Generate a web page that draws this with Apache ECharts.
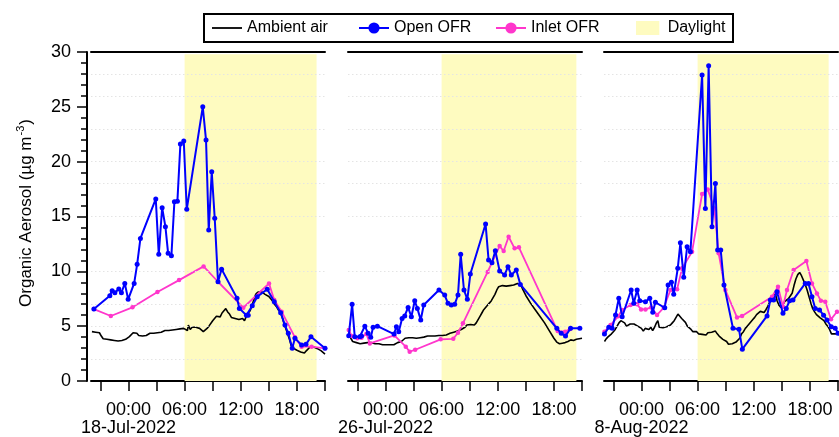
<!DOCTYPE html>
<html><head><meta charset="utf-8">
<script src="https://cdn.jsdelivr.net/npm/echarts@6/dist/echarts.min.js"></script>
<style>html,body{margin:0;padding:0;background:#fff}#c{width:839px;height:437px}</style>
</head><body><div id="c"></div><script>
// ---------- data (x = hours relative to 00:00 of the panel date) ----------
const dates = ['18-Jul-2022', '26-Jul-2022', '8-Aug-2022'];
const xTickHours = [-3, 0, 3, 6, 9, 12, 15, 18, 21];
const xLabelHours = [0, 6, 12, 18];
const daylight = [[6, 20.1], [6, 20.4], [6, 20.0]];
const gridValues = [2, 5, 7, 10, 15, 18, 20, 23, 26, 28];

const ambient1 = [[-3.9,4.5],[-3.7,4.4],[-3.5,4.45],[-3.3,4.3],[-3.1,4.4],[-2.9,4.1],[-2.7,3.85],[-2.5,3.75],[-2.3,3.8],[-2.1,3.65],[-1.9,3.75],[-1.7,3.6],[-1.5,3.7],[-1.3,3.55],[-1.1,3.65],[-0.9,3.6],[-0.7,3.7],[-0.5,3.65],[-0.3,3.8],[-0.1,3.95],[0.1,4.05],[0.3,4.2],[0.5,4.4],[0.7,4.3],[0.9,4.35],[1.1,4.15],[1.3,4.25],[1.5,4.1],[1.7,4.2],[1.9,4.15],[2.1,4.3],[2.3,4.35],[2.5,4.2],[2.7,4.35],[2.9,4.3],[3.1,4.4],[3.3,4.3],[3.5,4.45],[3.7,4.4],[3.9,4.6],[4.1,4.75],[4.3,4.6],[4.5,4.7],[4.7,4.65],[4.9,4.75],[5.1,4.7],[5.3,4.65],[5.5,4.75],[5.7,4.7],[5.9,4.8],[6.1,4.85],[6.3,4.6],[6.4,5.1],[6.6,4.7],[6.8,4.9],[7.0,4.8],[7.2,4.9],[7.4,5.0],[7.6,4.8],[7.8,4.65],[8.0,4.5],[8.2,4.6],[8.4,4.8],[8.6,5.0],[8.8,5.1],[9.0,5.5],[9.2,5.4],[9.4,5.9],[9.6,6.0],[9.8,5.85],[10.0,6.2],[10.2,6.4],[10.4,6.6],[10.6,6.3],[10.8,6.1],[11.0,5.8],[11.2,5.9],[11.4,5.7],[11.6,5.75],[11.8,5.6],[12.0,5.55],[12.2,5.7],[12.4,5.5],[12.6,5.9],[12.8,6.2],[13.0,6.4],[13.2,6.9],[13.4,7.4],[13.6,7.9],[13.8,8.1],[14.0,8.0],[14.2,8.15],[14.4,8.1],[14.6,7.9],[14.8,7.85],[15.0,7.7],[15.2,7.5],[15.4,7.3],[15.6,7.0],[15.8,6.8],[16.0,6.5],[16.2,6.3],[16.4,5.9],[16.6,5.3],[16.8,4.8],[17.0,4.3],[17.2,3.8],[17.4,3.2],[17.6,3.0],[17.8,2.95],[18.0,2.8],[18.2,2.9],[18.4,2.65],[18.6,2.7],[18.8,2.55],[19.0,2.75],[19.2,2.9],[19.4,3.1],[19.6,3.05],[19.8,3.1],[20.0,3.0],[20.2,2.95],[20.4,2.85],[20.6,2.75],[20.8,2.6],[21.0,2.45]];
const open1 = [[-3.69,6.56],[-1.99,7.78],[-1.74,8.23],[-1.45,8.05],[-1.03,8.39],[-0.75,8.05],[-0.39,8.9],[-0.03,7.45],[0.61,8.9],[0.93,10.64],[1.28,13.0],[2.92,16.6],[3.24,11.55],[3.6,15.8],[3.95,14.07],[4.24,11.64],[4.59,11.42],[4.91,16.35],[5.23,16.38],[5.55,21.6],[5.91,21.88],[6.23,15.65],[7.94,25.0],[8.29,21.97],[8.58,13.76],[8.9,19.08],[9.22,14.83],[9.57,9.05],[9.95,10.2],[11.6,7.54],[11.85,6.62],[12.6,6.0],[12.8,6.0],[13.23,6.87],[13.76,7.69],[14.83,8.36],[15.58,7.23],[16.26,6.23],[16.72,5.1],[17.08,4.35],[17.5,2.98],[17.79,3.89],[18.5,3.28],[18.97,3.34],[19.5,4.04],[21.0,2.98]];
const inlet1 = [[-3.69,6.56],[-1.88,5.93],[0.43,6.72],[3.1,8.11],[5.41,9.2],[8.03,10.45],[9.57,9.05],[12.27,6.68],[15.02,8.9],[15.58,7.38],[16.37,6.32],[17.79,3.98],[18.5,3.13],[19.57,3.13],[21.0,2.98]];

const ambient2 = [[-3.95,4.0],[-3.85,4.5],[-3.7,3.9],[-3.5,3.6],[-3.3,3.45],[-3.1,3.5],[-2.9,3.35],[-2.7,3.4],[-2.5,3.3],[-2.3,3.45],[-2.1,3.4],[-1.9,3.5],[-1.7,3.45],[-1.5,3.5],[-1.3,3.45],[-1.1,3.4],[-0.9,3.45],[-0.7,3.4],[-0.5,3.35],[-0.3,3.3],[-0.1,3.35],[0.1,3.3],[0.3,3.25],[0.5,3.3],[0.7,3.35],[0.9,3.3],[1.1,3.4],[1.3,3.5],[1.5,3.45],[1.7,3.6],[1.9,3.75],[2.1,3.9],[2.3,4.05],[2.5,3.95],[2.7,4.05],[2.9,3.95],[3.1,4.0],[3.3,3.9],[3.5,4.0],[3.7,3.95],[3.9,4.05],[4.1,4.0],[4.3,4.05],[4.5,4.1],[4.7,4.0],[4.9,4.1],[5.1,4.05],[5.3,4.1],[5.5,4.0],[5.7,4.15],[5.9,4.2],[6.1,4.15],[6.3,4.25],[6.5,4.2],[6.7,4.3],[6.9,4.35],[7.1,4.4],[7.3,4.45],[7.5,4.5],[7.7,4.55],[7.9,4.6],[8.1,4.7],[8.3,4.85],[8.5,4.9],[8.7,5.1],[8.9,5.2],[9.1,5.15],[9.3,5.0],[9.5,5.1],[9.7,5.3],[9.9,5.6],[10.1,5.9],[10.3,6.2],[10.5,6.5],[10.7,6.6],[10.9,6.9],[11.1,7.1],[11.3,7.3],[11.5,7.6],[11.7,7.9],[11.9,8.3],[12.1,8.6],[12.3,8.75],[12.5,8.7],[12.7,8.8],[12.9,8.65],[13.1,8.75],[13.3,8.7],[13.5,8.8],[13.7,8.75],[13.9,8.85],[14.1,8.9],[14.3,9.05],[14.5,8.7],[14.7,8.3],[15.0,7.8],[15.5,7.1],[16.0,6.5],[16.5,5.9],[17.0,5.3],[17.5,4.6],[18.0,3.9],[18.3,3.55],[18.6,3.4],[18.9,3.45],[19.2,3.5],[19.5,3.6],[19.8,3.75],[20.1,3.7],[20.4,3.8],[20.7,3.85],[21.0,3.9]];
const open2 = [[-3.92,4.13],[-3.56,6.99],[-3.28,4.04],[-2.74,4.04],[-2.56,4.1],[-2.2,5.0],[-1.85,4.35],[-1.57,3.98],[-1.32,4.9],[-0.86,5.0],[0.92,4.28],[1.17,4.95],[1.42,4.5],[1.78,5.71],[2.06,5.93],[2.42,6.71],[2.77,5.86],[3.13,7.32],[3.41,6.62],[3.77,5.56],[4.09,6.93],[5.72,8.3],[6.33,7.84],[6.68,7.08],[7.04,6.93],[7.4,6.99],[7.75,7.84],[8.04,11.55],[8.39,8.3],[8.75,7.45],[9.07,9.75],[10.7,14.31],[11.02,11.03],[11.38,10.78],[11.74,11.88],[12.2,10.03],[12.73,9.66],[13.09,10.42],[13.45,9.66],[13.98,10.12],[14.41,8.81],[18.31,4.8],[18.78,4.35],[19.24,4.1],[19.78,4.8],[20.77,4.8]];
const inlet2 = [[-3.92,4.65],[-3.6,4.1],[-3.0,3.9],[-2.56,3.95],[-2.03,4.3],[-1.67,3.43],[0.95,4.16],[2.17,3.13],[2.59,2.67],[3.18,2.85],[5.9,3.8],[7.25,3.85],[7.75,4.4],[8.28,5.26],[10.92,9.95],[12.2,12.3],[12.63,11.85],[13.16,13.15],[13.8,12.1],[14.26,12.19],[18.4,4.55],[19.2,4.5],[19.74,4.75]];

const ambient3 = [[-3.95,3.6],[-3.8,3.8],[-3.6,4.0],[-3.4,4.1],[-3.2,4.3],[-3.0,4.5],[-2.8,4.7],[-2.6,5.0],[-2.4,5.3],[-2.2,5.5],[-2.0,5.6],[-1.8,5.3],[-1.6,5.0],[-1.4,5.15],[-1.2,5.2],[-1.0,5.35],[-0.8,5.2],[-0.6,5.1],[-0.4,5.0],[-0.2,4.9],[0.0,4.8],[0.2,4.55],[0.4,4.8],[0.6,4.95],[0.8,4.7],[1.0,4.9],[1.2,4.6],[1.4,4.9],[1.6,5.3],[1.75,5.5],[1.9,4.9],[2.1,4.75],[2.3,4.85],[2.5,4.7],[2.7,4.95],[2.9,5.0],[3.1,5.1],[3.3,5.3],[3.5,5.5],[3.7,5.8],[3.9,6.1],[4.1,5.9],[4.3,5.7],[4.5,5.6],[4.7,5.35],[4.9,5.0],[5.1,4.9],[5.3,4.7],[5.5,4.5],[5.7,4.45],[5.9,4.5],[6.1,4.3],[6.3,4.45],[6.5,4.25],[6.7,4.4],[6.9,4.2],[7.1,4.4],[7.3,4.3],[7.5,4.45],[7.7,4.5],[7.9,4.55],[8.1,4.3],[8.3,4.1],[8.5,4.0],[8.7,3.8],[8.9,3.75],[9.1,3.6],[9.3,3.35],[9.5,3.2],[9.7,3.4],[9.9,3.45],[10.1,3.55],[10.3,3.5],[10.5,3.9],[10.7,4.3],[10.9,4.5],[11.1,4.8],[11.3,5.0],[11.5,5.2],[11.7,5.35],[11.9,5.6],[12.1,5.8],[12.3,6.05],[12.5,6.2],[12.7,6.35],[12.9,6.3],[13.1,6.25],[13.3,6.5],[13.5,6.8],[13.7,7.2],[13.9,7.5],[14.1,7.8],[14.3,8.0],[14.5,7.3],[14.7,6.9],[14.9,6.7],[15.1,6.9],[15.3,7.25],[15.5,7.4],[15.7,7.5],[15.9,7.6],[16.1,8.0],[16.3,8.7],[16.5,9.3],[16.7,9.7],[16.9,9.9],[17.1,9.6],[17.3,9.2],[17.5,8.8],[17.7,8.3],[17.9,7.7],[18.1,7.1],[18.3,6.6],[18.5,6.3],[18.7,6.05],[18.9,5.9],[19.1,5.75],[19.3,5.6],[19.5,5.5],[19.7,5.2],[19.9,5.0],[20.1,4.7],[20.3,4.3],[20.5,4.2],[20.7,4.3],[20.9,4.25],[21.0,4.3]];
const open3 = [[-3.95,4.28],[-3.49,4.9],[-3.13,4.8],[-2.77,6.02],[-2.42,7.54],[-2.06,5.86],[-1.1,8.3],[-0.82,7.08],[-0.46,8.3],[-0.18,7.32],[0.43,7.23],[0.89,7.54],[1.21,6.26],[1.49,7.17],[2.49,6.68],[2.85,8.75],[3.2,9.0],[3.45,7.9],[3.88,10.27],[4.16,12.6],[4.52,9.45],[4.88,12.24],[5.23,11.79],[6.48,27.9],[6.83,15.74],[7.18,28.74],[7.54,14.07],[7.9,18.0],[8.14,11.94],[8.47,11.94],[8.82,8.75],[9.78,4.8],[10.42,4.71],[10.78,2.9],[13.42,5.93],[13.77,7.38],[14.12,7.38],[14.48,8.14],[15.12,6.17],[15.47,6.62],[15.83,7.32],[16.19,7.38],[17.5,8.9],[17.85,8.9],[18.22,7.69],[18.57,6.62],[19.03,6.47],[19.46,6.0],[19.82,5.56],[20.28,4.95],[20.7,4.8],[21.0,4.35]];
const inlet3 = [[-3.95,4.5],[-3.3,5.1],[-2.5,5.9],[-2.06,6.47],[-1.17,6.93],[-0.46,6.99],[-0.04,6.53],[0.43,6.53],[1.03,6.71],[1.67,6.02],[2.38,6.68],[3.1,8.3],[3.81,8.36],[4.34,10.27],[5.41,11.79],[6.48,17.05],[7.08,17.47],[7.79,15.74],[8.25,11.64],[8.96,8.3],[10.21,5.8],[10.75,5.93],[13.95,7.69],[14.59,8.6],[15.12,6.78],[15.55,8.3],[16.26,10.12],[17.62,10.95],[18.22,8.9],[18.75,7.99],[19.17,7.32],[19.64,7.23],[20.25,5.62],[20.89,6.32]];

const ambientSets = [ambient1, ambient2, ambient3];
const openSets = [open1, open2, open3];
const inletSets = [inlet1, inlet2, inlet3];

// ---------- styling / layout ----------
const FONT = 'Liberation Sans, Arial, sans-serif';
const BLUE = '#0000ff', PINK = '#ff36cc', YELLOW = '#fefbc0';
const panelLeft = [91, 348, 604];
const panelWidth = 234;
// axis scale counts hours from 00:00 of the previous day (avoids a zero crossing)
const SHIFT = 24;
const X_MIN = -4 + SHIFT, X_MAX = 21 + SHIFT;
const sh = (arr) => arr.map(p => [p[0] + SHIFT, p[1]]);
const AX = 3; // x axes per panel

const grids = [], xAxes = [], yAxes = [], series = [];
for (let i = 0; i < 3; i++) {
  grids.push({ left: panelLeft[i], width: panelWidth, top: 52, bottom: 56, containLabel: false, outerBoundsMode: 'none' });
  // bottom axis: ticks + hour labels
  xAxes.push({
    type: 'value', gridIndex: i, min: X_MIN, max: X_MAX, position: 'bottom',
    axisLine: { show: true, onZero: false, lineStyle: { color: '#000', width: 2 } },
    axisTick: { show: true, customValues: xTickHours.map(h => h + SHIFT), length: 10, inside: false, lineStyle: { color: '#000', width: 1.5 } },
    axisLabel: {
      show: true, customValues: xLabelHours.map(h => h + SHIFT), margin: 20,
      fontFamily: FONT, fontSize: 18, color: '#000', hideOverlap: false,
      formatter: (v) => String(Math.round(v) - SHIFT).padStart(2, '0') + ':00'
    },
    splitLine: { show: false }
  });
  // top frame line
  xAxes.push({
    type: 'value', gridIndex: i, min: X_MIN, max: X_MAX, position: 'top',
    axisLine: { show: true, onZero: false, lineStyle: { color: '#000', width: 2 } },
    axisTick: { show: false }, axisLabel: { show: false }, splitLine: { show: false }
  });
  // date label (second line under 00:00)
  xAxes.push({
    type: 'value', gridIndex: i, min: X_MIN, max: X_MAX, position: 'bottom',
    axisLine: { show: false, onZero: false }, axisTick: { show: false }, splitLine: { show: false },
    axisLabel: {
      show: true, customValues: [SHIFT], margin: 38,
      fontFamily: FONT, fontSize: 18, color: '#000',
      formatter: () => dates[i]
    }
  });
  const first = i === 0;
  yAxes.push({
    type: 'value', gridIndex: i, min: 0, max: 30, interval: 5, show: first,
    offset: first ? 4 : 0,
    axisLine: { show: true, onZero: false, lineStyle: { color: '#000', width: 2 } },
    axisTick: { show: true, length: 10, lineStyle: { color: '#000', width: 1.5 } },
    minorTick: { show: true, splitNumber: 5, length: 6, lineStyle: { color: '#000', width: 1.5 } },
    axisLabel: { show: true, margin: 16, fontFamily: FONT, fontSize: 18, color: '#000' },
    splitLine: { show: false }, minorSplitLine: { show: false }
  });

  const xi = AX * i;
  // faint dotted reference lines
  series.push({
    type: 'line', xAxisIndex: xi, yAxisIndex: i, data: [], z: 1, silent: true,
    markLine: {
      silent: true, symbol: 'none', label: { show: false }, animation: false,
      lineStyle: { color: '#e4e4e4', type: [1.5, 2.5], width: 1 },
      data: gridValues.map(v => ({ yAxis: v }))
    }
  });
  // daylight shading
  series.push({
    name: 'Daylight', type: 'line', xAxisIndex: xi, yAxisIndex: i, data: [], z: 2, silent: true,
    itemStyle: { color: YELLOW }, lineStyle: { color: YELLOW },
    markArea: {
      silent: true, animation: false,
      itemStyle: { color: YELLOW, opacity: 1 },
      data: [[{ xAxis: daylight[i][0] + SHIFT, yAxis: 0 }, { xAxis: daylight[i][1] + SHIFT, yAxis: 29.8 }]]
    }
  });
  series.push({
    name: 'Ambient air', type: 'line', xAxisIndex: xi, yAxisIndex: i, z: 3,
    data: sh(ambientSets[i]), showSymbol: false, symbol: 'none',
    lineStyle: { color: '#000', width: 1.6 }, itemStyle: { color: '#000' }
  });
  series.push({
    name: 'Inlet OFR', type: 'line', xAxisIndex: xi, yAxisIndex: i, z: 4,
    data: sh(inletSets[i]), symbol: 'circle', symbolSize: 4.5, showAllSymbol: true,
    lineStyle: { color: PINK, width: 1.8 }, itemStyle: { color: PINK }
  });
  series.push({
    name: 'Open OFR', type: 'line', xAxisIndex: xi, yAxisIndex: i, z: 5,
    data: sh(openSets[i]), symbol: 'circle', symbolSize: 5, showAllSymbol: true,
    lineStyle: { color: BLUE, width: 2 }, itemStyle: { color: BLUE }
  });
}

const legendBase = {
  top: 20, itemWidth: 30, itemHeight: 14, padding: 0, itemGap: 0,
  textStyle: { fontFamily: FONT, fontSize: 16, color: '#000' },
  selectedMode: false
};
const legends = [
  Object.assign({}, legendBase, { left: 212, symbolKeepAspect: true,
    data: [{ name: 'Ambient air', icon: 'path://M0,0h30v1.8h-30z', itemStyle: { color: '#000' } }] }),
  Object.assign({}, legendBase, { left: 358, data: ['Open OFR'] }),
  Object.assign({}, legendBase, { left: 495, data: ['Inlet OFR'] }),
  Object.assign({}, legendBase, {
    left: 636, symbolKeepAspect: true,
    data: [{ name: 'Daylight', icon: 'path://M0,0h15v9h-15z', itemStyle: { color: YELLOW } }]
  })
];

const chart = echarts.init(document.getElementById('c'), null, { renderer: 'canvas' });
chart.setOption({
  animation: false,
  backgroundColor: '#fff',
  grid: grids, xAxis: xAxes, yAxis: yAxes, series: series,
  legend: legends,
  graphic: [
    { type: 'rect', shape: { x: 204, y: 14, width: 529, height: 28 },
      style: { fill: 'none', stroke: '#000', lineWidth: 2 }, z: 10, silent: true },
    { type: 'text', x: 26, y: 213, rotation: Math.PI / 2, silent: true,
      style: {
        text: '{a|Organic Aerosol (µg m}{s|-3}{a|)}',
        align: 'center', verticalAlign: 'middle', fill: '#000',
        rich: {
          a: { fontFamily: FONT, fontSize: 17, fill: '#000' },
          s: { fontFamily: FONT, fontSize: 11, fill: '#000', padding: [0, 1, 10, 1] }
        }
      } }
  ]
});
</script></body></html>
